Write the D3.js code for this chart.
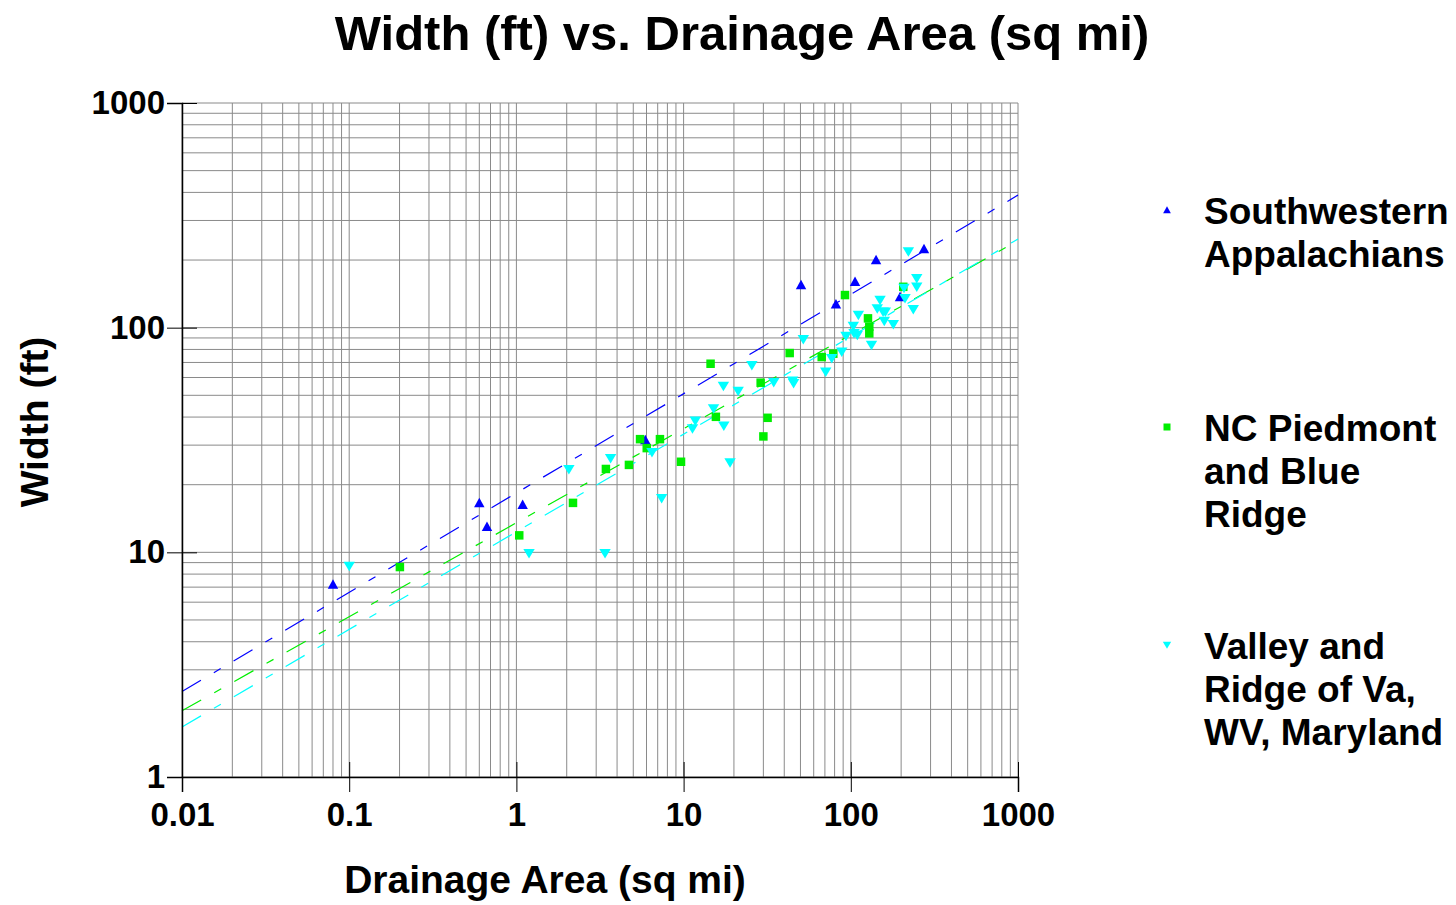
<!DOCTYPE html>
<html>
<head>
<meta charset="utf-8">
<script src="https://cdn.jsdelivr.net/npm/d3@7"></script>
<style>
  body { margin: 0; background: #fff; }
  #vis { width: 1456px; height: 905px; }
  text { font-family: "Liberation Sans", Arial, sans-serif; font-weight: bold; fill: #000; }
</style>
</head>
<body>
<div id="vis"></div>
<script>
// ---- data ----
// Southwestern Appalachians (blue, up triangles)
var swArea  = [0.08, 0.60, 0.667, 1.09, 5.9, 50.4, 81.5, 106, 141.6, 197, 274];
var swWidth = [7.2, 16.6, 13.0, 16.3, 31.6, 155, 127, 160, 200, 137, 224];

// NC Piedmont and Blue Ridge (green squares)
var ncArea  = [0.201, 1.04, 2.18, 3.43, 4.71, 5.49, 6.02, 7.22, 9.65, 14.5, 15.6,
               28.9, 31.8, 30.0, 43.1, 67, 78.6, 92.3, 126.7, 129, 129, 206];
var ncWidth = [8.6, 11.9, 16.6, 23.5, 24.5, 31.9, 29.1, 31.9, 25.3, 69.1, 40.1,
               56.9, 39.7, 32.8, 77.1, 74.0, 76.6, 139.7, 110, 101, 94.3, 152];

// Valley and Ridge of Va, WV, Maryland (cyan, down triangles)
var vrArea  = [0.1, 1.19, 2.06, 3.39, 3.66, 6.47, 7.39, 11.3, 11.75, 15.1, 17.4, 17.3,
               18.96, 21.2, 25.6, 34.6, 44.9, 45.5, 52, 70.8, 76.9, 88.3, 93.6, 103.5,
               104.5, 109.4, 111, 133, 144, 149.6, 156, 160.9, 158.6, 179.6, 208, 211,
               221, 236.5, 248, 248];
var vrWidth = [8.7, 9.9, 23.4, 9.9, 26.2, 27.9, 17.4, 35.6, 38.5, 43.7, 36.6, 55.0,
               25.1, 52.2, 68.0, 57.1, 58, 56.5, 88.7, 63.6, 73.0, 78.1, 91.8, 101.6,
               94.4, 92.7, 113.8, 83.7, 121.8, 132.7, 117.7, 117.7, 107, 103.5, 150, 135,
               218, 120.6, 165.7, 152];

// fitted trend lines, end points read at 0.01 and 1000 sq mi
var fitArea  = [0.01, 1000];
var swFit    = [2.40, 389];
var ncFit    = [1.97, 244];
var vrFit    = [1.67, 248];

var xTicks = [0.01, 0.1, 1, 10, 100, 1000];
var xTickLabels = ['0.01', '0.1', '1', '10', '100', '1000'];
var yTicks = [1, 10, 100, 1000];
var yTickLabels = ['1', '10', '100', '1000'];

var legendNames = [['Southwestern', 'Appalachians'],
                   ['NC Piedmont', 'and Blue', 'Ridge'],
                   ['Valley and', 'Ridge of Va,', 'WV, Maryland']];

// ---- layout ----
var width = 1456, height = 905;
var plot = { left: 182, right: 1018, top: 103, bottom: 777 };

var svg = d3.select('#vis')
    .append('svg')
    .attr('width', width)
    .attr('height', height);

var x_scale = d3.scaleLog()
    .domain([0.01, 1000])
    .range([plot.left, plot.right]);

var y_scale = d3.scaleLog()
    .domain([1, 1000])
    .range([plot.bottom, plot.top]);

// grid lines at every 1..9 of each decade
var xGrid = [];
xTicks.forEach(function(d) {
    for (var k = 1; k <= 9; k++) if (d * k <= 1000) xGrid.push(d * k);
});
var yGrid = [];
yTicks.forEach(function(d) {
    for (var k = 1; k <= 9; k++) if (d * k <= 1000) yGrid.push(d * k);
});

var grid = svg.append('g').attr('class', 'grid');
grid.selectAll('.vgrid')
    .data(xGrid)
    .enter()
    .append('line')
    .attr('x1', function(d) { return x_scale(d); })
    .attr('x2', function(d) { return x_scale(d); })
    .attr('y1', plot.top)
    .attr('y2', plot.bottom)
    .attr('stroke', '#8a8a8a')
    .attr('stroke-width', 1);

grid.selectAll('.hgrid')
    .data(yGrid)
    .enter()
    .append('line')
    .attr('x1', plot.left)
    .attr('x2', plot.right)
    .attr('y1', function(d) { return y_scale(d); })
    .attr('y2', function(d) { return y_scale(d); })
    .attr('stroke', '#8a8a8a')
    .attr('stroke-width', 1);

// trend lines
var line = d3.line()
    .x(function(d) { return x_scale(d[0]); })
    .y(function(d) { return y_scale(d[1]); });

[[swFit, '#0000ff'], [ncFit, '#00ee00'], [vrFit, '#00ffff']].forEach(function(f) {
    svg.append('path')
        .datum(d3.zip(fitArea, f[0]))
        .attr('d', line)
        .attr('fill', 'none')
        .attr('stroke', f[1])
        .attr('stroke-width', 1.2)
        .attr('stroke-dasharray', '22,15,8,15');
});

// marker shapes
function upTri(cx, cy, s) {
    return 'M' + cx + ',' + (cy - s * 0.55) + 'L' + (cx + s * 0.55) + ',' + (cy + s * 0.45) +
        'L' + (cx - s * 0.55) + ',' + (cy + s * 0.45) + 'Z';
}
function downTri(cx, cy, s) {
    return 'M' + (cx - s * 0.6) + ',' + (cy - s * 0.45) + 'L' + (cx + s * 0.6) + ',' + (cy - s * 0.45) +
        'L' + cx + ',' + (cy + s * 0.55) + 'Z';
}
function square(cx, cy, s) {
    var h = s / 2;
    return 'M' + (cx - h) + ',' + (cy - h) + 'h' + s + 'v' + s + 'h' + (-s) + 'Z';
}

svg.selectAll('.sw')
    .data(d3.zip(swArea, swWidth))
    .enter()
    .append('path')
    .attr('class', 'sw')
    .attr('d', function(d) { return upTri(x_scale(d[0]), y_scale(d[1]), 9.5); })
    .attr('fill', '#0000ff');

svg.selectAll('.nc')
    .data(d3.zip(ncArea, ncWidth))
    .enter()
    .append('path')
    .attr('class', 'nc')
    .attr('d', function(d) { return square(x_scale(d[0]), y_scale(d[1]), 8.5); })
    .attr('fill', '#00ee00');

svg.selectAll('.vr')
    .data(d3.zip(vrArea, vrWidth))
    .enter()
    .append('path')
    .attr('class', 'vr')
    .attr('d', function(d) { return downTri(x_scale(d[0]), y_scale(d[1]), 9.5); })
    .attr('fill', '#00ffff');

// axes
var x_axis = d3.axisBottom(x_scale)
    .tickValues(xTicks)
    .tickFormat(function(d, i) { return xTickLabels[i]; })
    .tickSizeOuter(0)
    .tickSize(15);

var y_axis = d3.axisLeft(y_scale)
    .tickValues(yTicks)
    .tickFormat(function(d, i) { return yTickLabels[i]; })
    .tickSizeOuter(0)
    .tickSize(15);

var gx = svg.append('g')
    .attr('class', 'x axis')
    .attr('transform', 'translate(0,' + plot.bottom + ')')
    .call(x_axis);
gx.selectAll('.tick line').attr('y1', -15).attr('y2', 15).attr('stroke', '#000');
gx.selectAll('.tick text').attr('y', 26).style('font', 'bold 33px "Liberation Sans", Arial, sans-serif');
gx.select('.domain').attr('stroke', '#000').attr('stroke-width', 1.5);

var gy = svg.append('g')
    .attr('class', 'y axis')
    .attr('transform', 'translate(' + plot.left + ',0)')
    .call(y_axis);
gy.selectAll('.tick line').attr('x1', -15).attr('x2', 15).attr('stroke', '#000');
gy.selectAll('.tick text').attr('x', -17).style('font', 'bold 33px "Liberation Sans", Arial, sans-serif');
gy.select('.domain').attr('stroke', '#000').attr('stroke-width', 1.5);

// titles
svg.append('text')
    .attr('x', 742)
    .attr('y', 50)
    .style('text-anchor', 'middle')
    .style('font-size', '49px')
    .text('Width (ft) vs. Drainage Area (sq mi)');

svg.append('text')
    .attr('x', 545)
    .attr('y', 893)
    .style('text-anchor', 'middle')
    .style('font-size', '39px')
    .text('Drainage Area (sq mi)');

// text label for the y axis
svg.append('text')
    .attr('transform', 'translate(48,422) rotate(-90)')
    .style('text-anchor', 'middle')
    .style('font-size', '39px')
    .text('Width (ft)');

// legend
var legendTop = [224, 441, 659];
var legendMark = [
    function(y) { return upTri(1167, y, 7); },
    function(y) { return square(1167, y, 7); },
    function(y) { return downTri(1167, y, 7); }
];
var legendColour = ['#0000ff', '#00ee00', '#00ffff'];

legendNames.forEach(function(lines, i) {
    svg.append('path')
        .attr('d', legendMark[i](legendTop[i] - 14))
        .attr('fill', legendColour[i]);
    var t = svg.append('text')
        .attr('x', 1204)
        .attr('y', legendTop[i])
        .style('font-size', '37px');
    lines.forEach(function(s, j) {
        t.append('tspan')
            .attr('x', 1204)
            .attr('dy', j === 0 ? 0 : 43)
            .text(s);
    });
});
</script>
</body>
</html>
